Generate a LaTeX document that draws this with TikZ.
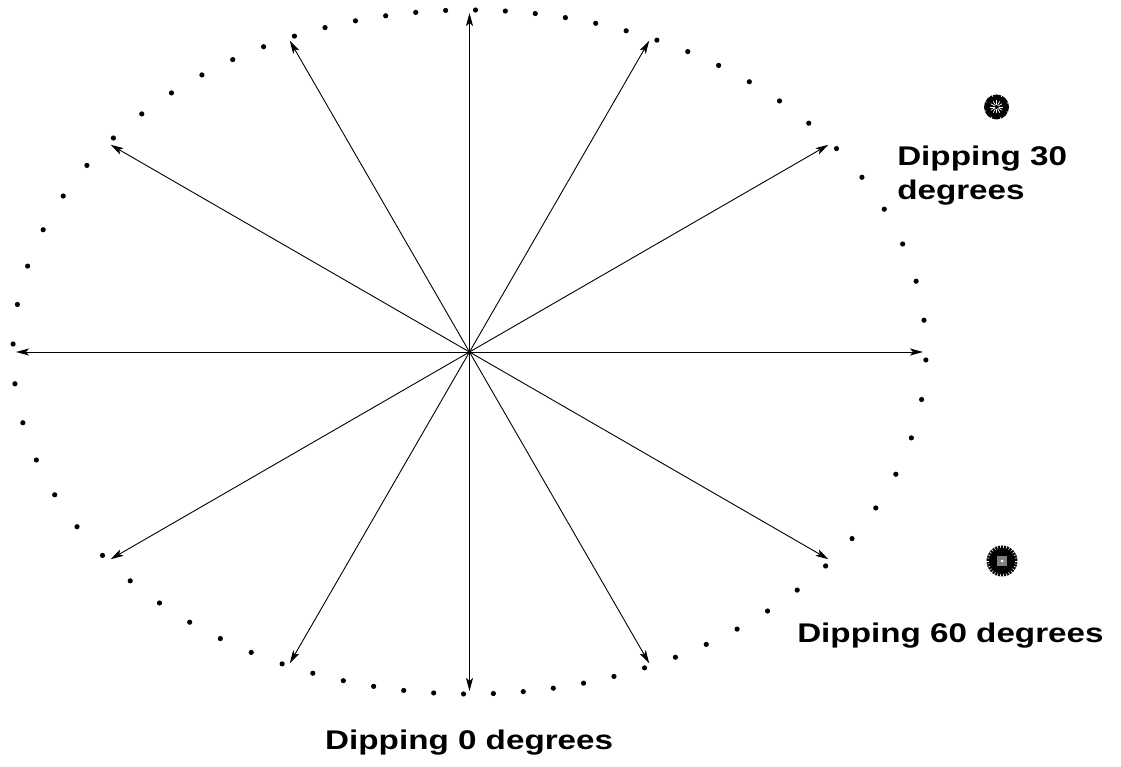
\documentclass[tikz,border=0pt]{standalone}
\usepackage{fontspec}
\setmainfont{Liberation Sans}
\usetikzlibrary{arrows.meta}

\begin{document}
\begin{tikzpicture}[x=1pt,y=1pt,>={Stealth[length=13pt,width=7pt,inset=3pt]},
  dip/.style={font=\bfseries\fontsize{27}{34}\selectfont,inner sep=0pt,xscale=1.23,transform shape,align=left,anchor=base west}]
  \useasboundingbox (-469.5,-415) rectangle (651.5,352);
  \coordinate (c) at (0,0);
  % dotted outline, one dot every 5 degrees
  \foreach \t in {-1,4,...,354}{
    \pgfmathsetmacro\r{100*4.565*3.42/sqrt((3.42*cos(\t))^2+(4.565*sin(\t))^2)}
    \fill (\t:\r) circle (2.6);
  }
  % dip directions
  \foreach \t in {0,30,...,330}{
    \pgfmathsetmacro\r{100*4.565*3.42/sqrt((3.42*cos(\t))^2+(4.565*sin(\t))^2)-3}
    \coordinate (e\t) at (\t:\r);
    \draw[->,line width=0.9pt] (c) -- (e\t);
  }

  % symbols
  \coordinate (s30) at (527,245);
  \fill (s30) circle (12.5);
  \foreach \k in {0,30,...,330} \draw[white,line width=0.7pt] (s30) ++(\k:2) -- ++(\k:4.5);
  \foreach \k in {20,65,...,335} \draw[white,line width=0.7pt] (s30) ++(\k:11) -- ++(\k:2);
  \coordinate (s60) at (532.5,-209);
  \fill (s60) circle (15.5);
  \foreach \k in {0,12,...,348} \draw[white,line width=0.6pt] (s60) ++(\k:13) -- ++(\k:3);
  \fill[gray] (s60) ++(-5,-5) rectangle ++(10,10);
  \fill[white] (s60) circle (1.5);

  \node[dip] (d0) at (-144.5,-397) {Dipping 0 degrees};
  \node[dip] (d60) at (327.5,-290) {Dipping 60 degrees};
  \node[dip] (d30) at (427.5,152) {Dipping 30\\degrees};
\end{tikzpicture}
\end{document}
